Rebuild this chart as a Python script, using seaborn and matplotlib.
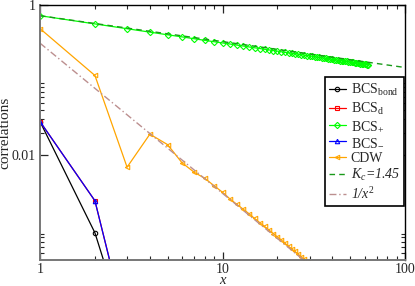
import numpy as np
import pandas as pd
import seaborn as sns
import matplotlib
matplotlib.use('Agg')
from matplotlib import pyplot as plt
from matplotlib.ticker import FixedLocator, NullFormatter, FixedFormatter

# DATA
bond_x = [1, 2, 3]
bond_y = [0.028, 0.00092, 0.00004]

d_x = [1, 2, 3]
d_y = [0.028, 0.00246, 0.000046]

minus_x = [1, 2, 3]
minus_y = [0.028, 0.00246, 0.000046]

plus_x = list(range(1, 64))
plus_y = [0.720, 0.560, 0.483, 0.435, 0.401, 0.376, 0.355, 0.338, 0.324, 0.312,
          0.302, 0.292, 0.284, 0.276, 0.269, 0.263, 0.257, 0.252, 0.247, 0.243,
          0.238, 0.234, 0.231, 0.227, 0.224, 0.221, 0.218, 0.215, 0.212, 0.210,
          0.207, 0.205, 0.202, 0.200, 0.198, 0.196, 0.194, 0.192, 0.190, 0.189,
          0.187, 0.185, 0.184, 0.182, 0.181, 0.179, 0.178, 0.177, 0.175, 0.174,
          0.173, 0.172, 0.170, 0.169, 0.168, 0.167, 0.166, 0.165, 0.164, 0.163,
          0.162, 0.161, 0.160]

cdw_x = list(range(1, 30))
cdw_y = [0.485, 0.115, 0.0069, 0.019, 0.0138, 0.0079, 0.0059, 0.0049, 0.0039, 0.0032,
         0.0026, 0.0022, 0.0019, 0.00165, 0.00143, 0.00126, 0.00112, 0.0010, 0.0009, 0.00081,
         0.00074, 0.00067, 0.00061, 0.00056, 0.00052, 0.00048, 0.00044, 0.00041, 0.00038]

# fit line K_c = 1.45 and 1/x^2 guide (end points)
fit_x = [1, 100]
fit_y = [0.72, 0.147]
guide_x = [1, 30]
guide_y = [0.31, 0.000344]

labels = [r'BCS$_{\rm bond}$', r'BCS$_{\rm d}$', r'BCS$_{+}$', r'BCS$_{-}$', 'CDW',
          r'K$_{\mathit{c}}$=1.45', r'1/x$^{\mathit{2}}$']

sns.set_style('ticks')
plt.rcParams['font.family'] = ['Liberation Serif', 'DejaVu Serif']
plt.rcParams['mathtext.fontset'] = 'custom'
plt.rcParams['mathtext.rm'] = 'Liberation Serif'
plt.rcParams['mathtext.it'] = 'Liberation Serif:italic'

fig = plt.figure(figsize=(4.15, 2.86), dpi=100)
ax = fig.add_axes([40 / 415, 26 / 286, 365 / 415, 255 / 286])

series = [
    (bond_x, bond_y, 'black', 'o'),
    (d_x, d_y, 'red', 's'),
    (plus_x, plus_y, '#00ff00', 'D'),
    (minus_x, minus_y, 'blue', '^'),
    (cdw_x, cdw_y, 'orange', '<'),
]
for (xs, ys, c, m), lab in zip(series, labels[:5]):
    sns.lineplot(x=xs, y=ys, ax=ax, color=c, marker=m, markersize=3.2,
                 markerfacecolor='none', markeredgecolor=c, markeredgewidth=0.8,
                 linewidth=0.9, label=lab, sort=False, estimator=None)

sns.lineplot(x=fit_x, y=fit_y, ax=ax, color='#1a9a1a', linestyle=(0, (4, 3)),
             linewidth=1.0, label=labels[5])
sns.lineplot(x=guide_x, y=guide_y, ax=ax, color='#bc8f8f', linestyle=(0, (5, 2, 1, 2)),
             linewidth=1.0, label=labels[6])

ax.set_xscale('log')
ax.set_yscale('log')
ax.set_xlim(1, 100)
ax.set_ylim(4e-4, 1)

ax.xaxis.set_major_locator(FixedLocator([1, 10, 100]))
ax.xaxis.set_major_formatter(FixedFormatter(['1', '10', '100']))
ax.xaxis.set_minor_locator(FixedLocator([2, 3, 4, 5, 6, 7, 8, 9, 20, 30, 40, 50, 60, 70, 80, 90]))
ax.xaxis.set_minor_formatter(NullFormatter())
ax.yaxis.set_major_locator(FixedLocator([0.01, 1]))
ax.yaxis.set_major_formatter(FixedFormatter(['0.01', '1']))
ax.yaxis.set_minor_locator(FixedLocator([k * 0.01 for k in range(2, 10)] +
                                        [k * 0.0001 for k in range(5, 10)]))
ax.yaxis.set_minor_formatter(NullFormatter())

ax.tick_params(which='both', direction='in', top=True, right=True, labelsize=10)
ax.tick_params(axis='x', pad=2)
ax.tick_params(axis='y', pad=3)
ax.tick_params(which='major', length=6, width=0.9)
ax.tick_params(which='minor', length=3, width=0.8)

for s in ['left', 'bottom']:
    ax.spines[s].set_color('#777777')
    ax.spines[s].set_linewidth(1.4)
for s in ['top', 'right']:
    ax.spines[s].set_color('black')
    ax.spines[s].set_linewidth(1.0)

ax.set_xlabel('x', fontsize=10.5, style='italic')
ax.set_ylabel('correlations', fontsize=11)
ax.xaxis.set_label_coords(0.5, -0.056)
ax.yaxis.set_label_coords(-0.078, 0.5)

leg = ax.legend(loc='upper right', bbox_to_anchor=(0.998, 0.716), fontsize=10,
                frameon=True, fancybox=False, framealpha=1, edgecolor='black',
                handlelength=1.2, handletextpad=0.35, labelspacing=0.2,
                borderpad=0.3, borderaxespad=0.0)
leg.get_frame().set_linewidth(1.2)
for t in leg.get_texts()[5:]:
    t.set_fontstyle('italic')

fig.savefig('out.png', dpi=100)
